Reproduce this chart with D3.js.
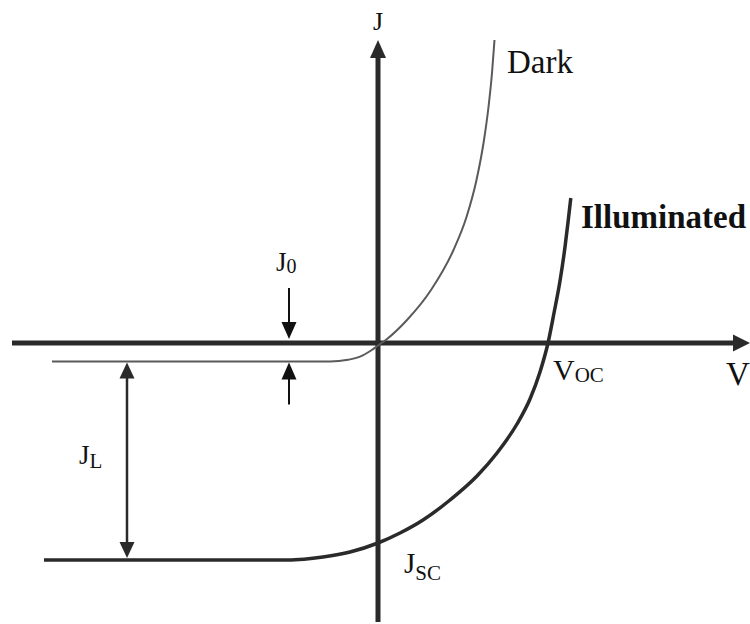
<!DOCTYPE html>
<html>
<head>
<meta charset="utf-8">
<script src="https://cdn.jsdelivr.net/npm/d3@7/dist/d3.min.js"></script>
<style>
  html, body { margin: 0; padding: 0; background: #fff; }
  svg { display: block; }
  text { font-family: "Liberation Serif", "DejaVu Serif", serif; fill: #111; }
</style>
</head>
<body>
<svg id="chart" width="750" height="624"></svg>
<script>
// Dark J-V characteristic (V, J in arbitrary units)
const darkV = [-3.26, -0.88, -0.48, -0.30, -0.18, -0.07, 0.00, 0.09, 0.29, 0.53, 0.755, 0.885, 0.985, 1.06, 1.105, 1.14, 1.165];
const darkJ = [-0.185, -0.185, -0.185, -0.168, -0.137, -0.075, -0.025, 0.04, 0.23, 0.53, 0.93, 1.26, 1.63, 2.03, 2.36, 2.70, 3.03];

// Illuminated J-V characteristic
const illumV = [-3.34, -0.90, -0.74, -0.55, -0.28, 0.00, 0.22, 0.45, 0.72, 0.99, 1.19, 1.39, 1.52, 1.62, 1.70, 1.76, 1.82, 1.87, 1.905, 1.928];
const illumJ = [-2.17, -2.17, -2.162, -2.14, -2.09, -2.00, -1.90, -1.77, -1.57, -1.33, -1.10, -0.81, -0.56, -0.29, 0.00, 0.30, 0.62, 0.96, 1.25, 1.45];

// Axis extents and marker positions (data units)
const vAxisExtent = [-3.66, 3.72];
const jAxisExtent = [-2.79, 3.03];
const j0MarkerV = -0.89;
const jLMarkerV = -2.51;

const svg = d3.select("#chart");

const x = d3.scaleLinear().domain([0, 1]).range([378, 478]);
const y = d3.scaleLinear().domain([0, 1]).range([343, 243]);

const axisColor = "#2a2a2a";

// filled triangular arrow head; tip at (tx, ty), pointing in direction (dx, dy)
function arrowHead(g, tx, ty, dx, dy, len, halfW, color) {
  const bx = tx - dx * len, by = ty - dy * len;
  const px = -dy * halfW, py = dx * halfW;
  g.append("path")
    .attr("d", `M${tx},${ty}L${bx + px},${by + py}L${bx - px},${by - py}Z`)
    .attr("fill", color);
}

const axes = svg.append("g");

// V axis
axes.append("line")
  .attr("x1", x(vAxisExtent[0])).attr("x2", x(vAxisExtent[1]) - 14)
  .attr("y1", y(0)).attr("y2", y(0))
  .attr("stroke", axisColor).attr("stroke-width", 5);
arrowHead(axes, x(vAxisExtent[1]), y(0), 1, 0, 17, 8.5, axisColor);

// J axis
axes.append("line")
  .attr("x1", x(0)).attr("x2", x(0))
  .attr("y1", y(jAxisExtent[0])).attr("y2", y(jAxisExtent[1]) + 14)
  .attr("stroke", axisColor).attr("stroke-width", 5);
arrowHead(axes, x(0), y(jAxisExtent[1]), 0, -1, 18, 8, axisColor);

const line = d3.line()
  .x(d => x(d[0]))
  .y(d => y(d[1]))
  .curve(d3.curveMonotoneX);

// Dark curve (thin)
svg.append("path")
  .datum(d3.zip(darkV, darkJ))
  .attr("d", line)
  .attr("fill", "none")
  .attr("stroke", "#5a5a5a")
  .attr("stroke-width", 2);

// Illuminated curve (thick)
svg.append("path")
  .datum(d3.zip(illumV, illumJ))
  .attr("d", line)
  .attr("fill", "none")
  .attr("stroke", "#2a2a2a")
  .attr("stroke-width", 3.5);

const ann = svg.append("g");

// J0 indicator: arrows pointing at the axis and the dark saturation level
const j0 = darkJ[0];
const xj0 = x(j0MarkerV);
ann.append("line")
  .attr("x1", xj0).attr("x2", xj0)
  .attr("y1", y(0) - 55).attr("y2", y(0) - 18)
  .attr("stroke", "#111").attr("stroke-width", 2);
arrowHead(ann, xj0, y(0) - 4, 0, 1, 17, 7.5, "#111");
ann.append("line")
  .attr("x1", xj0).attr("x2", xj0)
  .attr("y1", y(j0) + 15).attr("y2", y(j0) + 43)
  .attr("stroke", "#111").attr("stroke-width", 2);
arrowHead(ann, xj0, y(j0) + 1, 0, -1, 17, 7.5, "#111");

// JL indicator: double arrow between dark and illuminated plateaus
const jl = illumJ[0];
const xjl = x(jLMarkerV);
ann.append("line")
  .attr("x1", xjl).attr("x2", xjl)
  .attr("y1", y(j0) + 14).attr("y2", y(jl) - 14)
  .attr("stroke", "#2a2a2a").attr("stroke-width", 2.5);
arrowHead(ann, xjl, y(j0) + 1, 0, -1, 16, 7.5, "#2a2a2a");
arrowHead(ann, xjl, y(jl) - 2, 0, 1, 16, 7.5, "#2a2a2a");

// Labels
const labels = svg.append("g");

labels.append("text")
  .attr("x", x(0)).attr("y", 30)
  .attr("text-anchor", "middle")
  .attr("font-size", 26)
  .text("J");

labels.append("text")
  .attr("x", 726).attr("y", 385)
  .attr("font-size", 33)
  .text("V");

labels.append("text")
  .attr("x", 507).attr("y", 73)
  .attr("font-size", 33)
  .text("Dark");

labels.append("text")
  .attr("x", 581).attr("y", 228)
  .attr("font-size", 33)
  .attr("font-weight", "bold")
  .text("Illuminated");

function subLabel(xp, yp, main, sub, mainSize, subSize, subDy) {
  const t = labels.append("text").attr("x", xp).attr("y", yp).attr("font-size", mainSize);
  t.append("tspan").text(main);
  t.append("tspan").attr("font-size", subSize).attr("dy", subDy).text(sub);
}

subLabel(276, 271, "J", "0", 27, 20, 2);
subLabel(79, 464, "J", "L", 27, 21, 4);
subLabel(553, 380, "V", "OC", 30, 21, 2);
subLabel(404, 573, "J", "SC", 29, 21, 7);
</script>
</body>
</html>
